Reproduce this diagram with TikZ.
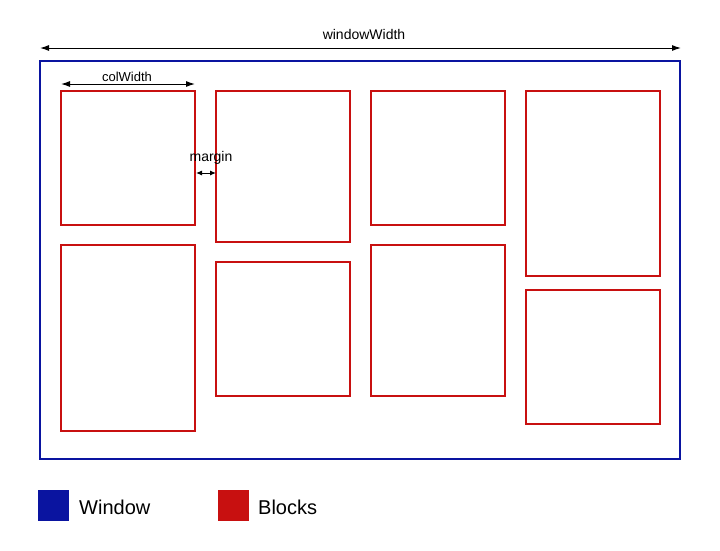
\documentclass[tikz,border=0pt]{standalone}
\usepackage{fontspec}
\setmainfont{Liberation Sans}
\usetikzlibrary{arrows.meta}
\definecolor{winblue}{HTML}{0A14A0}
\definecolor{blkred}{HTML}{C81010}
\begin{document}
\begin{tikzpicture}[x=1pt,y=-1pt,
  block/.style={draw=blkred,line width=1.25pt},
  dim/.style={draw=black,line width=1pt,{Latex[length=9pt,width=6pt]}-{Latex[length=9pt,width=6pt]}},
  lbl/.style={font=\fontsize{13}{15}\selectfont,inner sep=0pt},
  leg/.style={font=\fontsize{20}{24}\selectfont,inner sep=0pt,anchor=west}]
\useasboundingbox (0,0) rectangle (720,550);
% window
\draw[draw=winblue,line width=1.8pt] (40,61) rectangle (680,459);
% blocks
\draw[block] (61,91) rectangle (195,225);
\draw[block] (61,245) rectangle (195,431);
\draw[block] (216,91) rectangle (350,242);
\draw[block] (216,262) rectangle (350,396);
\draw[block] (371,91) rectangle (505,225);
\draw[block] (371,245) rectangle (505,396);
\draw[block] (526,91) rectangle (660,276);
\draw[block] (526,290) rectangle (660,424);
% dimension arrows
\coordinate (wl) at (40,48); \coordinate (wr) at (681,48);
\draw[dim] (wl) -- (wr);
\node[lbl,font=\fontsize{14}{16}\selectfont] (wlab) at (364,34) {windowWidth};
\coordinate (cl) at (61,84); \coordinate (cr) at (195,84);
\draw[dim] (cl) -- (cr);
\node[lbl] (clab) at (127,77) {colWidth};
\coordinate (ml) at (196,173); \coordinate (mr) at (216,173);
\draw[dim,{Latex[length=6pt,width=5pt]}-{Latex[length=6pt,width=5pt]}] (ml) -- (mr);
\node[lbl,font=\fontsize{14}{16}\selectfont] (mlab) at (211,158) {margin};
% legend
\fill[winblue] (38,490) rectangle (69,521);
\node[leg] (lw) at (79,507) {Window};
\fill[blkred] (218,490) rectangle (249,521);
\node[leg] (lb) at (258,507) {Blocks};
\end{tikzpicture}
\end{document}
